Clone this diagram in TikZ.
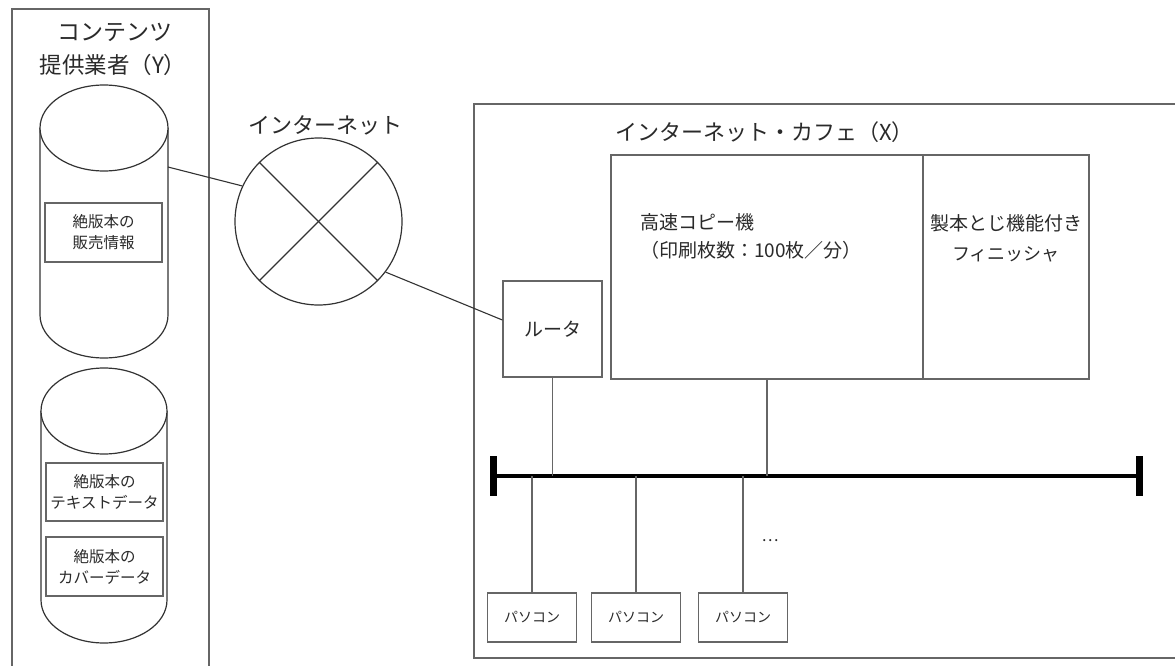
\documentclass[tikz,border=0pt]{standalone}
\usepackage{fontspec}
\setmainfont{Noto Sans CJK JP}
\newcommand\myfs[2]{\fontsize{#1}{#2}\selectfont}
\definecolor{txt}{HTML}{2A2A2A}
\definecolor{boxln}{HTML}{666666}
\definecolor{darkln}{HTML}{333333}
\tikzset{
  frame/.style={draw=boxln, line width=1.4pt},
  boxnode/.style={draw=boxln, line width=1.3pt, fill=white, inner sep=0pt, align=center, text=txt},
  cyl/.style={draw=darkln, line width=1.2pt, fill=white},
  link/.style={draw=darkln, line width=1.1pt},
  drop/.style={draw=boxln, line width=1.3pt},
  bus/.style={draw=black, line width=3.5pt},
  busend/.style={draw=black, line width=7pt},
  title/.style={text=txt, inner sep=0pt},
  celltext/.style={align=center, text=txt, inner sep=0pt, font=\myfs{15.5}{21}},
}
\begin{document}
\begin{tikzpicture}[x=1pt,y=-1pt]
\useasboundingbox (0,0) rectangle (1175,666);
\fill[white] (0,0) rectangle (1175,666);

% left frame: contents provider
\draw[frame] (12,666) -- (12,9) -- (209,9) -- (209,666);
\node[title, font=\myfs{23}{23}] (ytitle1) at (115,32) {コンテンツ};
\node[title, font=\myfs{22.5}{22.5}] (ytitle2) at (113,65) {提供業者（Y）};

% cylinder 1
\draw[cyl] (40,128) -- (40,315) arc[start angle=180, end angle=360, x radius=64pt, y radius=43pt] -- (168,128);
\draw[cyl] (104,128) ellipse [x radius=64pt, y radius=43pt];
\coordinate (c1) at (168,167);
\node[boxnode, minimum width=117pt, minimum height=59pt] (salebox) at (103.5,232.5) {};
\node[celltext] (saletext) at (salebox.center) {絶版本の\\販売情報};

% cylinder 2
\draw[cyl] (41,411) -- (41,600) arc[start angle=180, end angle=360, x radius=63pt, y radius=43pt] -- (167,411);
\draw[cyl] (104,411) ellipse [x radius=63pt, y radius=43pt];
\node[boxnode, minimum width=117pt, minimum height=58pt] (textbox) at (104.5,492) {};
\node[celltext] (texttext) at (textbox.center) {絶版本の\\テキストデータ};
\node[boxnode, minimum width=117pt, minimum height=59pt] (coverbox) at (104.5,566.5) {};
\node[celltext] (covertext) at (coverbox.center) {絶版本の\\カバーデータ};

% internet
\node[circle, draw=darkln, line width=1.2pt, minimum size=167pt, inner sep=0pt] (inet) at (318.5,221.5) {};
\draw[link] (inet.135) -- (inet.-45);
\draw[link] (inet.45) -- (inet.-135);
\node[title, font=\myfs{22}{22}] (inetlabel) at (325,125) {インターネット};

% cafe frame
\draw[frame] (1175,104) -- (474,104) -- (474,658) -- (1175,658);
\node[title, font=\myfs{22}{22}, anchor=west] (xtitle) at (615,132) {インターネット・カフェ（X）};

% devices
\node[boxnode, minimum width=99pt, minimum height=96pt, font=\myfs{19}{19}] (router) at (552.5,329) {ルータ};
\node[boxnode, minimum width=312pt, minimum height=224pt] (copier) at (767,267) {};
\node[align=left, anchor=west, text=txt, inner sep=0pt, font=\myfs{19}{28}] (copiertext) at (640,236) {高速コピー機\\（印刷枚数：100枚／分）};
\node[boxnode, minimum width=166pt, minimum height=224pt] (finisher) at (1006,267) {};
\node[align=center, text=txt, inner sep=0pt, font=\myfs{19}{30}] (finishertext) at (1006,238) {製本とじ機能付き\\{\myfs{18}{30}フィニッシャ}};

% links
\draw[link] (c1) -- (inet.155);
\draw[link] (inet.-37) -- ([yshift=9pt]router.west);

% bus
\coordinate (busL) at (493,476);
\coordinate (busR) at (1139,476);
\draw[bus] (busL) -- (busR);
\draw[busend] ([yshift=20pt]busL) -- ([yshift=-20pt]busL);
\draw[busend] ([yshift=20pt]busR) -- ([yshift=-20pt]busR);
\draw[drop] (router.south) -- (router.south |- busL);
\draw[drop] (copier.south) -- (copier.south |- busL);

% PCs
\node[boxnode, minimum width=89pt, minimum height=49pt, font=\myfs{14}{14}] (pc1) at (532,617.5) {パソコン};
\node[boxnode, minimum width=89pt, minimum height=49pt, font=\myfs{14}{14}] (pc2) at (636,617.5) {パソコン};
\node[boxnode, minimum width=89pt, minimum height=49pt, font=\myfs{14}{14}] (pc3) at (743,617.5) {パソコン};
\draw[drop] (pc1.north) -- (pc1.north |- busL);
\draw[drop] (pc2.north) -- (pc2.north |- busL);
\draw[drop] (pc3.north) -- (pc3.north |- busL);
\node[text=txt, inner sep=0pt, font=\myfs{16}{16}] (dots) at (770,541) {…};
\end{tikzpicture}
\end{document}
